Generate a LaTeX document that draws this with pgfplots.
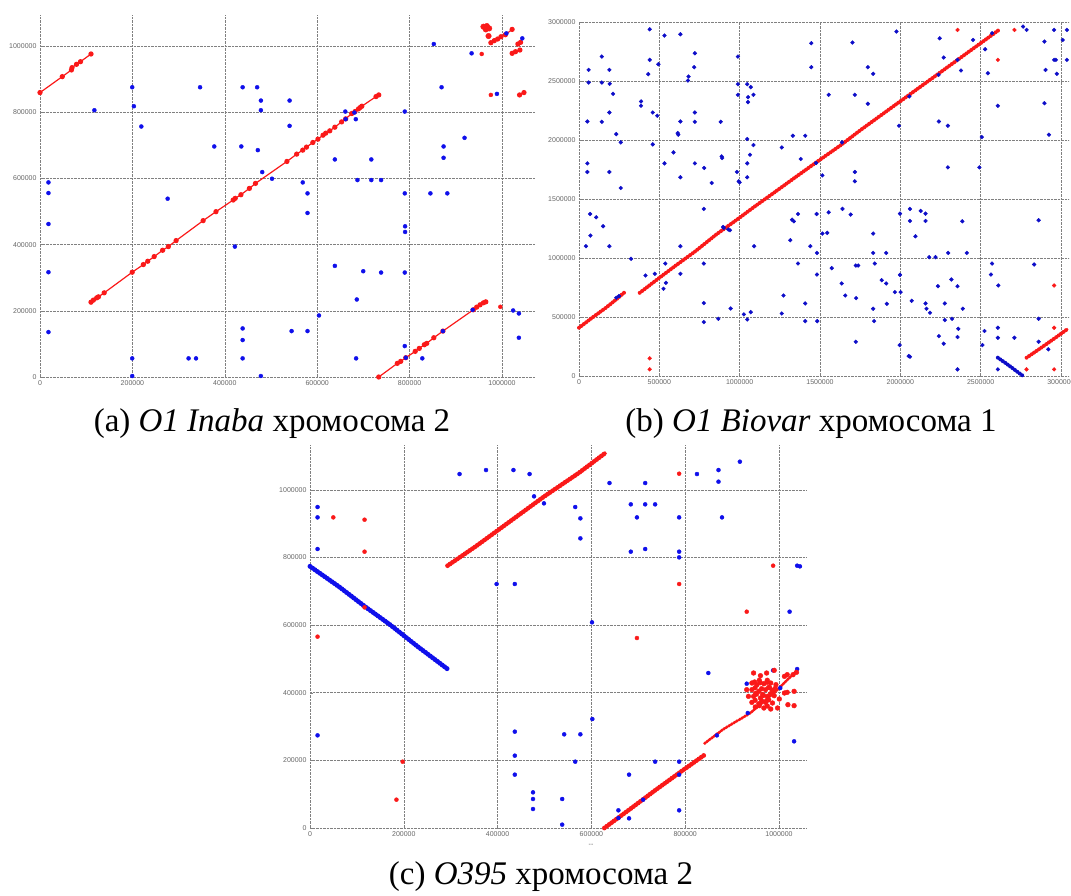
\documentclass[border=0pt]{standalone}
\usepackage{fontspec}
\setmainfont{Liberation Serif}
\newfontfamily\tickfont{Liberation Sans}
\usepackage{pgfplots}
\pgfplotsset{compat=1.18}
\definecolor{ptblue}{RGB}{15,15,235}
\definecolor{ptred}{RGB}{250,25,25}
\pgfplotsset{
  dotplot/.style={
    scale only axis, axis line style={draw=none}, clip=false,
    xmin=0, ymin=0,
    grid=major, major grid style={densely dotted, black!50, line width=0.6pt},
    tick style={black!50, line width=0.5pt}, major tick length=3pt, tick pos=left,
    scaled ticks=false,
    tick label style={font=\tickfont\fontsize{7}{8}\selectfont, text=black!60},
    /pgf/number format/fixed, /pgf/number format/1000 sep={},
    /pgf/number format/assume math mode=true,
  },
  bdot/.style={only marks, mark=*, mark size=2pt, color=ptblue},
  rdot/.style={only marks, mark=*, mark size=2pt, color=ptred},
  rline/.style={color=ptred, line width=1.2pt, mark=*, mark size=2pt},
  bead/.style={line cap=round, line join=round, dash pattern=on 0pt off 3pt, line width=#1},
}
\begin{document}
\begin{tikzpicture}
\path[use as bounding box] (0,0) rectangle (1071pt,-896pt);

% ---------------- (a) ----------------
\begin{axis}[dotplot, at={(40pt,-377pt)}, anchor=south west,
  width=495pt, height=362pt, xmax=1071400, ymax=1093700,
  xtick={0,200000,400000,600000,800000,1000000},
  ytick={0,200000,400000,600000,800000,1000000}]
\addplot[rline] coordinates {(0,859300)(48200,907500)(68000,927600)(69400,934700)(79000,944700)(87700,952700)(110400,975900)};
\addplot[rline] coordinates {(110400,226100)(115500,232200)(122800,239200)(126500,242200)(138900,254300)(199600,316600)(223700,339700)(233200,349700)(247100,363800)(265400,382900)(277800,394000)(294600,412100)(353100,472400)(380900,499500)(418100,534700)(422500,539700)(434900,550700)(453200,569800)(466400,584900)(534400,651200)(555600,673400)(568700,685400)(576800,694500)(590600,708500)(601600,718600)(612600,730600)(618400,736700)(627200,743700)(638200,754800)(652800,770800)(661600,779900)(674700,796000)(682000,802000)(689300,810000)(693000,814100)(696600,818100)(727300,847200)(733200,852200)};
\addplot[rline] coordinates {(733200,0)(773400,41200)(780700,47200)(791700,58300)(812100,77400)(820900,86400)(831900,97500)(837000,101500)(852400,118600)(872100,138700)(937900,203000)(945200,211100)(952500,218100)(959800,224100)(964900,227100)};
\addplot[rline] coordinates {(975900,1010000)(983200,1016100)(990500,1021100)(997800,1028100)(1007300,1034100)(1021900,1050200)};
\addplot[rline] coordinates {(1021900,977900)(1029200,982900)(1038700,987900)};
\addplot[rline] coordinates {(1034400,1006000)(1040200,1011000)};
\addplot[rline] coordinates {(1038000,852200)(1047500,859300)};
\addplot[rdot, mark size=2.8pt] coordinates {(959800,1058300)(967100,1060300)(972200,1053200)(964900,1050200)(970800,1030100)};
\addplot[rdot] coordinates {(956100,975900)(975900,852200)(996400,212100)};
\addplot[bdot] coordinates {
(18300,587900)(18300,555800)(18300,462300)(18300,316600)(18300,135700)
(117700,806000)(199600,875400)(203200,818100)(219300,756800)(199600,56300)(199600,3000)
(276300,538700)(321600,56300)(337700,56300)(346500,875400)(377200,696500)
(421800,394000)(435700,696500)(438600,875400)(438600,146700)(438600,111600)(438600,56300)
(470000,875400)(471500,685400)(478100,835200)(478100,806000)(481000,619100)(478100,3000)
(502200,599000)(540200,835200)(540200,758800)(544600,138700)
(568700,587900)(579000,554800)(579000,495500)(579000,138700)(603800,185900)
(638200,657300)(638200,335700)(660800,802000)(661600,778900)(680600,799000)(683500,778900)(687100,595000)(685700,234200)(684200,56300)(699600,319600)(717100,657300)(717100,595000)(738300,595000)(738300,315600)
(789500,802000)(789500,554800)(790200,455300)(790200,438200)(789500,315600)(789500,93500)(791700,58300)(827500,56300)
(845000,554800)(852400,1006000)(869200,875400)(873500,696500)(873500,662300)(881600,554800)(872100,138700)(918900,722600)(934200,977900)(936400,203000)(989000,855300)(1009500,1038200)(1024100,201000)(1036500,192000)(1036500,118600)(1043900,1023100)};
\end{axis}

% ---------------- (b) ----------------
\begin{axis}[dotplot, at={(579pt,-376pt)}, anchor=south west,
  width=490pt, height=354pt, xmax=3050000, ymax=3000000,
  xtick={0,500000,1000000,1500000,2000000,2500000,3000000},
  ytick={0,500000,1000000,1500000,2000000,2500000,3000000}]
\addplot[bdot, mark size=1.9pt, color=ptblue!85!black] coordinates {
(440000,2938000)(532000,2885000)(631000,2896000)(142000,2707000)(440000,2679000)(494000,2642000)(60000,2594000)(189000,2594000)(721000,2735000)(717000,2617000)(431000,2558000)(60000,2487000)(142000,2487000)(191000,2476000)(212000,2391000)(682000,2538000)(678000,2504000)(386000,2327000)(386000,2290000)(459000,2233000)(487000,2205000)(189000,2233000)(52000,2157000)(142000,2154000)(631000,2157000)(721000,2233000)(721000,2154000)(882000,2154000)(232000,2050000)(260000,1980000)(614000,2059000)(618000,2045000)(459000,1963000)(588000,1895000)(532000,1802000)(721000,1802000)(52000,1802000)(52000,1729000)(189000,1729000)(779000,1763000)(260000,1593000)(631000,1684000)(826000,1636000)(888000,1861000)(891000,1847000)(989000,2707000)(989000,2473000)(989000,2383000)(1047000,2473000)(1069000,2448000)(1052000,2363000)(1052000,2321000)(1086000,2383000)(1047000,2008000)(1064000,1875000)(1086000,1957000)(1047000,1802000)(1047000,1684000)(983000,1729000)(994000,1650000)(1000000,1641000)(1262000,1937000)(1331000,2036000)(1408000,2036000)(1380000,1839000)(1446000,2820000)(1446000,2617000)(1554000,2383000)(1515000,1700000)(1702000,2826000)(1717000,2383000)(1798000,2617000)(1831000,2561000)(1798000,2307000)(1976000,2919000)(1992000,2121000)(1717000,1729000)(1717000,1650000)
(69000,1373000)(107000,1345000)(150000,1269000)(71000,1190000)(189000,1100000)(43000,1100000)(324000,993000)(777000,1416000)(537000,953000)(541000,790000)(631000,866000)(631000,1100000)(777000,953000)(472000,866000)(414000,852000)(526000,739000)(777000,618000)(777000,457000)(867000,485000)(944000,572000)(901000,1255000)(940000,1235000)(1026000,522000)(1047000,479000)(1069000,541000)(1090000,1100000)(1273000,682000)(1262000,530000)(1315000,1151000)(1326000,1325000)(1337000,1311000)(1363000,1373000)(1363000,953000)(1408000,615000)(1408000,465000)(1440000,1100000)(1479000,1373000)(1481000,1043000)(1481000,860000)(1483000,465000)(1515000,1207000)(1545000,1213000)(1554000,1387000)(1573000,914000)(1635000,784000)(1640000,1416000)(1657000,682000)(1691000,1368000)(1723000,936000)(1738000,936000)(1725000,660000)(1723000,290000)(1831000,1207000)(1831000,1043000)(1831000,570000)(1837000,465000)(1841000,953000)(1884000,812000)(1912000,784000)(1912000,1043000)(1916000,612000)(1966000,711000)(1998000,1376000)(1998000,857000)(2002000,711000)(2060000,1416000)(2060000,1314000)(2060000,164000)(2094000,1184000)(2071000,637000)(2127000,1399000)(2157000,1376000)(2157000,1314000)(2157000,615000)(2163000,570000)(2185000,536000)(2180000,1007000)(2219000,1007000)(2234000,761000)(2240000,338000)(2277000,615000)(2277000,474000)(2270000,274000)(2298000,1043000)(2318000,818000)(2322000,485000)(2356000,761000)(2361000,400000)(2356000,330000)(2386000,1311000)(2389000,570000)(2414000,1043000)(1996000,262000)(2052000,169000)
(2245000,2862000)(2270000,2699000)(2378000,2589000)(2453000,2848000)(2528000,2769000)(2545000,2566000)(2607000,2290000)(2240000,2157000)(2296000,2121000)(2296000,1768000)(2507000,2025000)(2492000,1768000)(2897000,2834000)(2904000,2594000)(2957000,2679000)(2968000,2679000)(2974000,2561000)(2957000,2933000)(3037000,2933000)(3011000,2848000)(3037000,2679000)(2897000,2312000)(2925000,2045000)(2861000,1320000)(2833000,945000)(2571000,953000)(2564000,860000)(2610000,767000)(2524000,381000)(2511000,262000)(2607000,409000)(2607000,324000)(2710000,324000)(2861000,485000)(2861000,290000)(2921000,226000)(2607000,56000)(2356000,56000)(2764000,2961000)(2786000,2933000)};
% red diagonals (dense beads)
\addplot[color=ptred, line width=2.2pt] coordinates {(0,409000)(82000,494000)(167000,578000)(232000,649000)(285000,711000)};
\addplot[color=ptred, bead=4pt] coordinates {(0,409000)(82000,494000)(167000,578000)(232000,649000)(285000,711000)};
\addplot[color=ptred, line width=2.2pt] coordinates {(378000,705000)(500000,832000)(597000,931000)(725000,1058000)(854000,1199000)(983000,1325000)(1090000,1433000)(1197000,1537000)(1326000,1664000)(1476000,1810000)(1627000,1954000)(1755000,2087000)(1884000,2214000)(2013000,2341000)(2142000,2468000)(2270000,2594000)(2399000,2721000)(2528000,2848000)(2614000,2933000)};
\addplot[color=ptred, bead=4pt] coordinates {(378000,705000)(500000,832000)(597000,931000)(725000,1058000)(854000,1199000)(983000,1325000)(1090000,1433000)(1197000,1537000)(1326000,1664000)(1476000,1810000)(1627000,1954000)(1755000,2087000)(1884000,2214000)(2013000,2341000)(2142000,2468000)(2270000,2594000)(2399000,2721000)(2528000,2848000)(2614000,2933000)};
\addplot[color=ptred, line width=2.2pt] coordinates {(2786000,155000)(2871000,234000)(2957000,316000)(3043000,400000)};
\addplot[color=ptred, bead=4pt] coordinates {(2786000,155000)(2871000,234000)(2957000,316000)(3043000,400000)};
\addplot[color=ptblue!85!black, line width=2pt] coordinates {(2607000,155000)(2625000,138000)(2640000,124000)(2655000,110000)(2672000,93000)(2690000,75000)(2705000,60000)(2722000,42000)(2740000,24000)(2755000,10000)(2764000,0)};
\addplot[color=ptblue!85!black, bead=4pt] coordinates {(2607000,155000)(2625000,138000)(2640000,124000)(2655000,110000)(2672000,93000)(2690000,75000)(2705000,60000)(2722000,42000)(2740000,24000)(2755000,10000)(2764000,0)};
\addplot[bdot, mark size=1.9pt, color=ptblue!85!black] coordinates {(232000,663000)(249000,677000)(897000,1263000)(929000,1241000)(1476000,1805000)(1637000,1980000)(2056000,2369000)(2238000,2552000)(2356000,2679000)(2571000,2905000)};
\addplot[rdot, mark size=1.9pt] coordinates {(439900,149500)(439900,56400)(2356300,2932800)(2710400,2932800)(2607400,2679000)(2957200,767000)(2957200,408900)(2957200,56400)(2785500,56400)};
\end{axis}

% ---------------- (c) ----------------
\begin{axis}[dotplot, at={(310pt,-828pt)}, anchor=south west,
  width=496pt, height=383pt, xmax=1057600, ymax=1133000,
  xtick={0,200000,400000,600000,800000,1000000},
  ytick={0,200000,400000,600000,800000,1000000}]
\addplot[bdot] coordinates {
(16100,949500)(16100,918900)(16100,825300)(16100,274100)(318900,1047100)(375300,1058900)(433800,1058900)(468200,1047100)(477700,981100)(498900,960400)(565500,949500)(576500,916000)(576500,856800)(397900,721800)(436700,721800)(601300,608400)(638600,1020500)(714700,1020500)(684000,957400)(714700,957400)(735900,957400)(697100,918900)(684000,817400)(714700,825300)(787100,918900)(787100,817400)(787100,800600)(825100,1047100)(871000,1058900)(871000,1024500)(878500,918900)(916600,1083600)(1038700,776000)(1044600,774000)(1022600,639900)(849300,458500)(931200,426900)(987500,466400)(1038700,470300)(1032200,256400)(933400,340200)(867600,274100)(602000,322400)(436700,285000)(436700,214000)(436700,157800)(475500,105500)(475500,85800)(475500,56200)(542000,277100)(576500,277100)(565500,196200)(537700,85800)(537700,9900)(735900,196200)(787100,196200)(680300,157800)(787100,157800)(787100,52300)(657600,52300)(657600,29600)(680300,28600)(710300,83800)(1002700,414100)};
\addplot[color=ptblue, line width=3.5pt] coordinates {(0,774000)(60700,715000)(116300,656000)(170400,601700)(228900,537500)(293300,470300)};
\addplot[color=ptblue, bead=5pt] coordinates {(0,774000)(60700,715000)(116300,656000)(170400,601700)(228900,537500)(293300,470300)};
\addplot[color=ptred, line width=3.2pt] coordinates {(293300,776000)(353300,833000)(426500,907000)(499600,981000)(572800,1050000)(631300,1111000)};
\addplot[color=ptred, bead=4.8pt] coordinates {(293300,776000)(353300,833000)(426500,907000)(499600,981000)(572800,1050000)(631300,1111000)};
\addplot[color=ptred, line width=3.2pt] coordinates {(627600,0)(682500,56000)(737400,113000)(792200,168000)(842000,217000)};
\addplot[color=ptred, bead=4.8pt] coordinates {(627600,0)(682500,56000)(737400,113000)(792200,168000)(842000,217000)};
\addplot[color=ptred, line width=1.6pt] coordinates {(842000,251000)(880000,291000)(938500,340000)(990000,400000)(1041000,470000)};
\addplot[color=ptred, bead=3.5pt] coordinates {(842000,251000)(880000,291000)(938500,340000)(990000,400000)(1041000,470000)};
\addplot[rdot] coordinates {(49700,918900)(116300,912000)(116300,817400)(16100,566000)(197500,196200)(184300,83800)(787100,1048100)(787100,721800)(697100,562000)(931200,639900)(987500,776000)(116300,652700)};
% dense red cluster
\addplot[rdot, mark size=2.4pt] coordinates {
(945800,458500)(960500,450600)(973600,458500)(989800,466400)(1011600,448600)(1017500,453600)(1030000,453600)(1037300,460500)
(942200,428900)(948000,432000)(953100,424000)(960000,430000)(967800,426900)(975000,431000)(982400,428900)(993500,424000)
(942200,409200)(949000,415000)(956800,404300)(963000,412000)(971400,409200)(978000,416000)(986100,407200)(992000,413000)
(945800,389500)(952000,396000)(960500,384500)(967000,392000)(975100,389500)(982000,397000)(989800,391400)
(942200,371700)(949000,378000)(956800,367800)(963000,376000)(971400,371700)(978000,379000)(986100,369800)
(949500,357900)(958000,362000)(967800,355000)(975000,361000)(982400,352000)(997000,355000)
(934900,389500)(931200,409200)(950000,398000)(965000,395000)(980000,415000)(958000,437000)(975000,437000)
(1011600,399300)(1017500,401300)(1032200,404300)(1000700,381600)(1019000,364800)(1032200,361900)};
\end{axis}

\node[font=\tickfont\fontsize{7}{8}\selectfont, text=black!60] at (591pt,-845pt) {--};

\node[font=\fontsize{33}{36}\selectfont, anchor=base] at (272pt,-431pt) {(a) \textit{O1 Inaba} хромосома 2};
\node[font=\fontsize{33}{36}\selectfont, anchor=base] at (811pt,-431pt) {(b) \textit{O1 Biovar} хромосома 1};
\node[font=\fontsize{33}{36}\selectfont, anchor=base] at (541pt,-884pt) {(c) \textit{O395} хромосома 2};
\end{tikzpicture}
\end{document}
